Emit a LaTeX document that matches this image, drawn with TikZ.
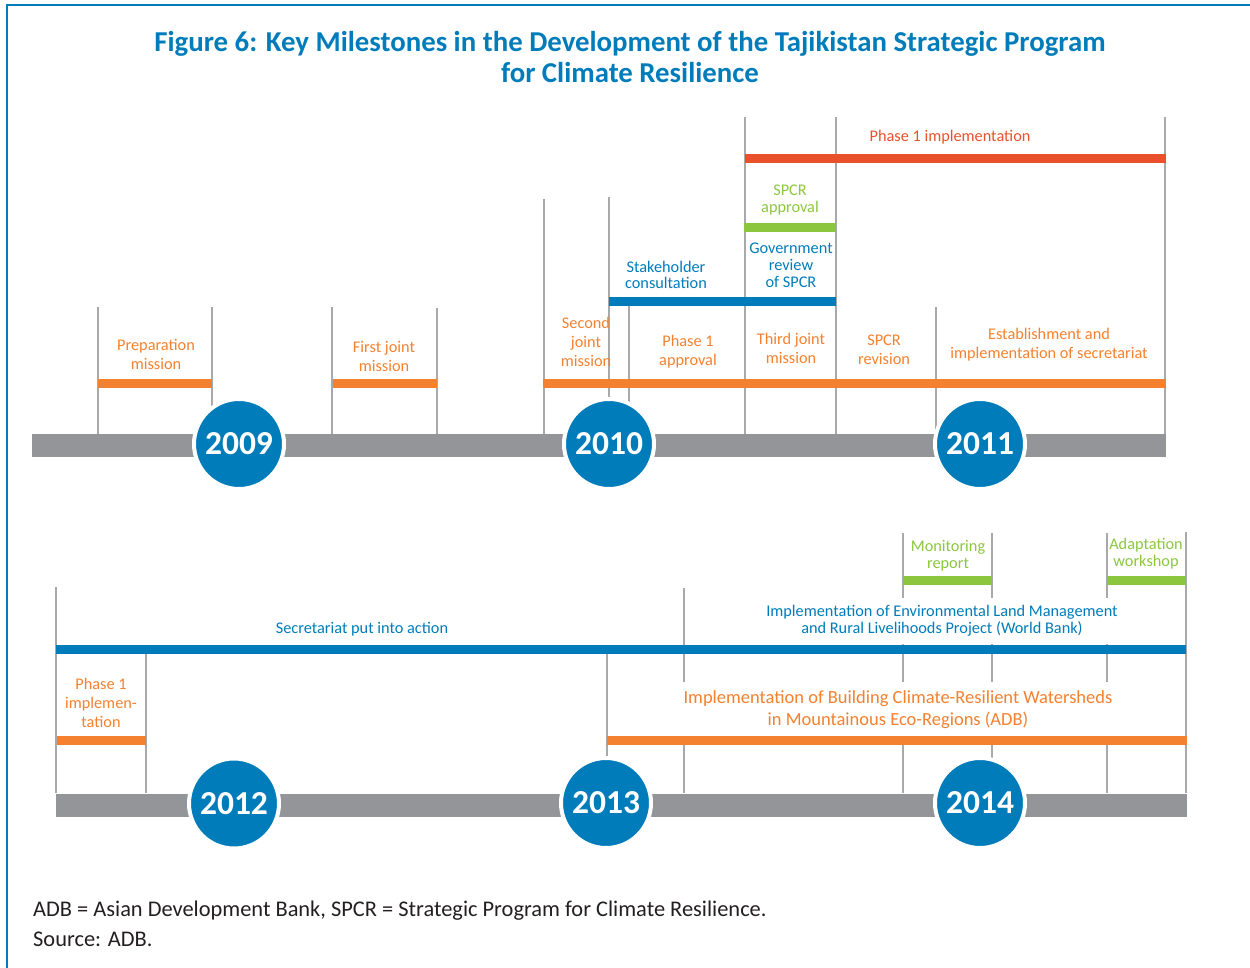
\documentclass[tikz,border=0pt]{standalone}
\usepackage{fontspec}
\setmainfont{Carlito}
\definecolor{cblue}{RGB}{0,124,186}
\definecolor{corange}{RGB}{244,129,47}
\definecolor{cred}{RGB}{232,81,43}
\definecolor{cgreen}{RGB}{140,198,63}
\definecolor{cgrey}{RGB}{147,149,152}
\definecolor{cline}{RGB}{167,169,172}
\definecolor{ctext}{RGB}{35,31,32}
\tikzset{
 tick/.style={draw=cline, line width=1.5pt},
 hbar/.style={line width=9pt},
 tbar/.style={draw=cgrey, line width=23pt},
 yearc/.style={circle, fill=cblue, draw=white, line width=4pt, minimum size=90pt, inner sep=0pt, text=white, font=\fontsize{33.5}{33.5}\selectfont\bfseries},
 lbl/.style={align=center, inner sep=0pt, font=\fontsize{16.3}{19}\selectfont},
 lblb/.style={align=center, inner sep=0pt, font=\fontsize{16.3}{16.8}\selectfont},
 knock/.style={fill=white, inner xsep=2pt},
}
\begin{document}
\begin{tikzpicture}[x=1pt,y=-1pt]
\useasboundingbox (0,0) rectangle (1250,968);
% frame
\draw[cblue, line width=2pt] (7,968) -- (7,5) -- (1250,5);
% title
\node[align=center, inner sep=0pt, text=cblue, font=\fontsize{28.8}{31}\selectfont\bfseries] (title) at (630,57) {Figure 6: Key Milestones in the Development of the Tajikistan Strategic Program\\for Climate Resilience};

% ---- row 1 ticks
\foreach \x/\t in {98/307, 212/307, 332/307, 437/308, 544/199, 609/197, 629/306, 745/117, 836/117, 936/307, 1165/117}
  \draw[tick] (\x,\t) -- (\x,434);
% row 1 bars
\draw[hbar, corange] (98,383.5) -- (212,383.5);
\draw[hbar, corange] (333,383.5) -- (437,383.5);
\draw[hbar, corange] (543,383) -- (1166,383);
\draw[hbar, cblue] (609,301.5) -- (836,301.5);
\draw[hbar, cgreen] (744,227.5) -- (836,227.5);
\draw[hbar, cred] (745,158.5) -- (1166,158.5);
\draw[tbar] (32,445.5) -- (1166,445.5);
\node[yearc] (y2009) at (239,444) {2009};
\node[yearc] (y2010) at (609,444) {2010};
\node[yearc] (y2011) at (980,444) {2011};
% row 1 labels
\node[lbl, text=corange] (prep) at (156,354) {Preparation\\mission};
\node[lbl, text=corange] (first) at (384,356) {First joint\\mission};
\node[lbl, text=corange] (second) at (586,342) {Second\\joint\\mission};
\node[lbl, text=corange] (p1app) at (688,352) {Phase 1\\approval};
\node[lbl, text=corange] (third) at (791,348) {Third joint\\mission};
\node[lbl, text=corange] (rev) at (884,350) {SPCR\\revision};
\node[lbl, text=corange] (estab) at (1049,345) {Establishment and\\implementation of secretariat};
\node[lblb, text=cblue] (stake) at (666,275) {Stakeholder\\consultation};
\node[lblb, text=cblue] (gov) at (791,265) {Government\\review\\of SPCR};
\node[lblb, text=cgreen] (spcrapp) at (790,200) {SPCR\\approval};
\node[lbl, text=cred] (p1imp) at (950,137) {Phase 1 implementation};

% ---- row 2 ticks
\foreach \x/\t in {56/587, 146/654, 607/654, 684/588, 903/533, 992/533, 1107/533, 1186/532}
  \draw[tick] (\x,\t) -- (\x,793);
% row 2 labels that interrupt the ticks
\node[lblb, knock, inner ysep=8pt, text=cblue] (elm) at (942,621) {Implementation of Environmental Land Management\\and Rural Livelihoods Project (World Bank)};
\node[knock, inner ysep=9pt, align=center, text=corange, font=\fontsize{18.5}{22}\selectfont] (bcrw) at (898,710) {Implementation of Building Climate-Resilient Watersheds\\in Mountainous Eco-Regions (ADB)};
% row 2 bars
\draw[hbar, cblue] (56,649.5) -- (1186,649.5);
\draw[hbar, cgreen] (903,580.5) -- (992,580.5);
\draw[hbar, cgreen] (1107,580.5) -- (1186,580.5);
\draw[hbar, corange] (57,740) -- (146,740);
\draw[hbar, corange] (607,740.5) -- (1187,740.5);
\draw[tbar] (56,805) -- (1187,805);
\node[yearc] (y2012) at (234,803.5) {2012};
\node[yearc] (y2013) at (606,803) {2013};
\node[yearc] (y2014) at (980,803) {2014};
% other row 2 labels
\node[lbl, text=corange] (p1imp2) at (101,703) {Phase 1\\implemen-\\tation};
\node[lbl, text=cblue] (secr) at (362,629) {Secretariat put into action};
\node[lblb, text=cgreen] (monit) at (948,556) {Monitoring\\report};
\node[lblb, text=cgreen] (adapt) at (1146,554) {Adaptation\\workshop};

% footer
\node[anchor=base west, inner sep=0pt, text=ctext, font=\fontsize{22.4}{24}\selectfont] (note) at (33,916) {ADB = Asian Development Bank, SPCR = Strategic Program for Climate Resilience.};
\node[anchor=base west, inner sep=0pt, text=ctext, font=\fontsize{22.4}{24}\selectfont] (src) at (33,946) {Source: ADB.};
\end{tikzpicture}
\end{document}
